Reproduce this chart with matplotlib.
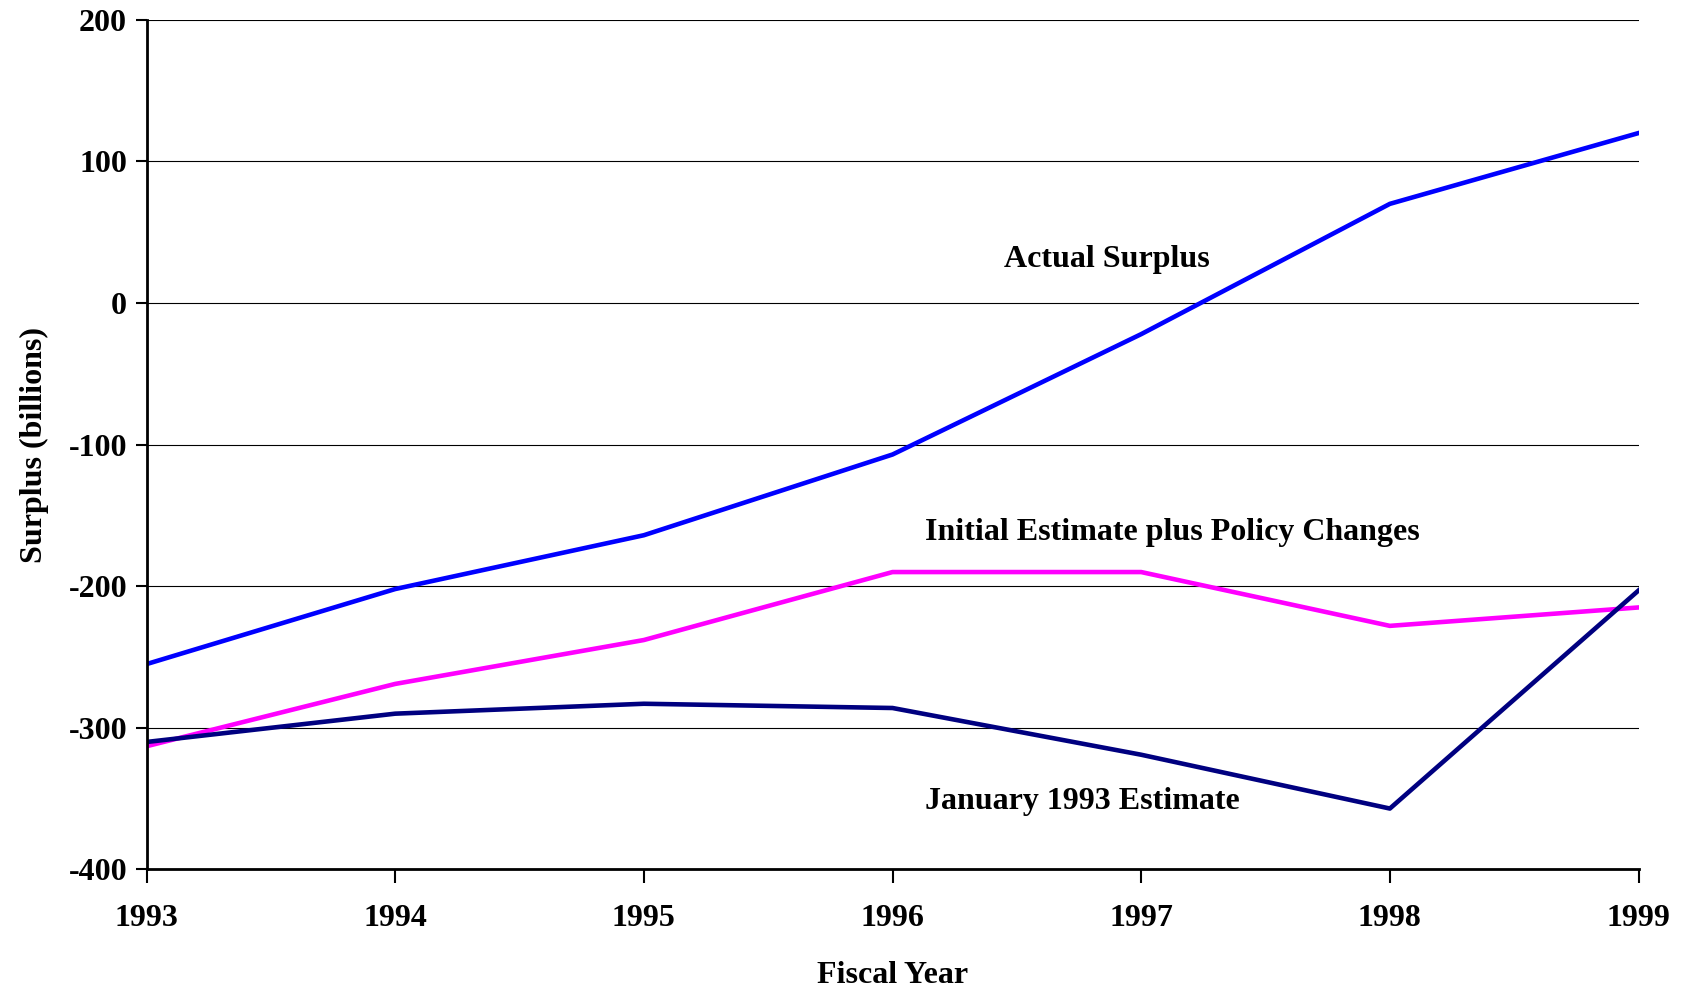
import matplotlib
matplotlib.use("Agg")
import matplotlib.pyplot as plt

years = [1993, 1994, 1995, 1996, 1997, 1998, 1999]
actual_surplus = [-255, -202, -164, -107, -22, 70, 120]
initial_plus_policy = [-313, -269, -238, -190, -190, -228, -215]
jan_1993_estimate = [-310, -290, -283, -286, -319, -357, -203]

y_ticks = [200, 100, 0, -100, -200, -300, -400]

plt.rcParams["font.family"] = ["Liberation Serif", "DejaVu Serif"]
plt.rcParams["font.weight"] = "bold"
plt.rcParams["axes.unicode_minus"] = False

fig = plt.figure(figsize=(16.84, 9.88), dpi=100)
ax = fig.add_axes([0.087, 0.12, 0.886, 0.86])

for y in y_ticks:
    ax.axhline(y, color="black", lw=0.8, zorder=1)

ax.plot(years, actual_surplus, color="#0000FF", lw=3.3, zorder=3)
ax.plot(years, initial_plus_policy, color="#FF00FF", lw=3.3, zorder=3)
ax.plot(years, jan_1993_estimate, color="#000080", lw=3.3, zorder=3)

ax.text(1996.45, 31, "Actual Surplus", fontsize=23, fontweight="bold", va="center")
ax.text(1996.13, -162, "Initial Estimate plus Policy Changes", fontsize=23,
        fontweight="bold", va="center")
ax.text(1996.13, -352, "January 1993 Estimate", fontsize=23, fontweight="bold",
        va="center")

ax.set_xlim(1993, 1999)
ax.set_ylim(-400, 200)
ax.set_xticks(years)
ax.set_yticks(y_ticks)
ax.tick_params(axis="both", labelsize=23, width=1.5, colors="black")
ax.tick_params(axis="y", length=8, pad=6)
ax.tick_params(axis="x", length=10, pad=15)
for lab in ax.get_xticklabels() + ax.get_yticklabels():
    lab.set_fontweight("bold")

for side in ["top", "right"]:
    ax.spines[side].set_visible(False)
for side in ["left", "bottom"]:
    ax.spines[side].set_linewidth(2)
    ax.spines[side].set_zorder(4)

ax.set_xlabel("Fiscal Year", fontsize=23, fontweight="bold", labelpad=20)
ax.set_ylabel("Surplus (billions)", fontsize=23, fontweight="bold", labelpad=14)

fig.savefig("out.png", dpi=100)
